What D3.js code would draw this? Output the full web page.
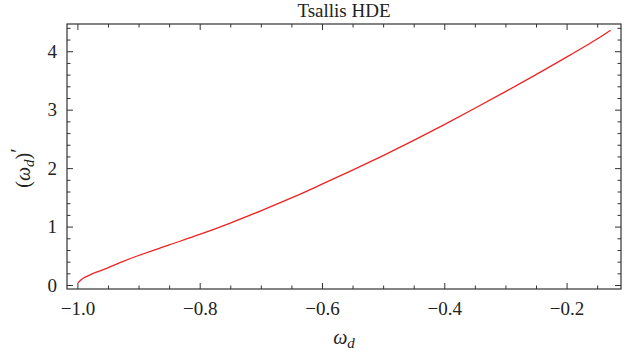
<!DOCTYPE html>
<html>
<head>
<meta charset="utf-8">
<script src="https://cdn.jsdelivr.net/npm/d3@7"></script>
<style>
  body { margin: 0; background: #fff; }
  svg text { font-family: "Liberation Serif", "Times New Roman", Times, serif; fill: #222; }
</style>
</head>
<body>
<svg id="drawing_region"></svg>
<script>
// values
const omega_d = [-0.999, -0.99, -0.98, -0.97, -0.95, -0.925, -0.9, -0.85, -0.8, -0.75, -0.7, -0.65,
                 -0.6, -0.55, -0.5, -0.45, -0.4, -0.35, -0.3, -0.25, -0.2, -0.15, -0.128];
const omega_prime = [0.04, 0.12, 0.17, 0.215, 0.295, 0.405, 0.505, 0.685, 0.865, 1.06, 1.27, 1.49,
                     1.725, 1.965, 2.215, 2.475, 2.745, 3.025, 3.31, 3.60, 3.90, 4.21, 4.36];
const x_ticks = [-1.0, -0.8, -0.6, -0.4, -0.2];
const y_ticks = [0, 1, 2, 3, 4];
const title = "Tsallis HDE";

const config = {
    width: 633, height: 358,
    margin: {top: 24, right: 12, bottom: 69, left: 67}
};
const w = config.width - config.margin.left - config.margin.right;
const h = config.height - config.margin.top - config.margin.bottom;
const serif = '"Liberation Serif", "Times New Roman", Times, serif';

const svg = d3.select('#drawing_region')
    .attr('width', config.width)
    .attr('height', config.height);

const g = svg.append('g')
    .attr('transform', `translate(${config.margin.left}, ${config.margin.top})`);

const x = d3.scaleLinear().domain([-1.017, -0.111]).range([0, w]);
const y = d3.scaleLinear().domain([-0.068, 4.466]).range([h, 0]);

const xMinor = d3.range(-1.0, -0.11, 0.05).filter(v => Math.abs(Math.round(v * 5) - v * 5) > 1e-6);
const yMinor = d3.range(0, 4.41, 0.2).filter(v => Math.abs(Math.round(v) - v) > 1e-6);

function styleAxis(sel) {
    sel.attr('font-family', serif);
    sel.select('.domain').remove();
    sel.selectAll('line').attr('stroke', '#333').attr('stroke-width', 1);
    sel.selectAll('text').style('font-size', '19px');
}

const fmt = d3.format('.1f');

// bottom
g.append('g').attr('transform', `translate(0, ${h})`)
    .call(d3.axisBottom(x).tickValues(x_ticks).tickFormat(fmt).tickSizeInner(-6).tickPadding(13))
    .call(styleAxis);
g.append('g').attr('transform', `translate(0, ${h})`)
    .call(d3.axisBottom(x).tickValues(xMinor).tickFormat('').tickSizeInner(-3.5))
    .call(styleAxis);
// top
g.append('g')
    .call(d3.axisTop(x).tickValues(x_ticks).tickFormat('').tickSizeInner(-6))
    .call(styleAxis);
g.append('g')
    .call(d3.axisTop(x).tickValues(xMinor).tickFormat('').tickSizeInner(-3.5))
    .call(styleAxis);
// left
g.append('g')
    .call(d3.axisLeft(y).tickValues(y_ticks).tickFormat(d3.format('d')).tickSizeInner(-6).tickPadding(10))
    .call(styleAxis);
g.append('g')
    .call(d3.axisLeft(y).tickValues(yMinor).tickFormat('').tickSizeInner(-3.5))
    .call(styleAxis);
// right
g.append('g').attr('transform', `translate(${w}, 0)`)
    .call(d3.axisRight(y).tickValues(y_ticks).tickFormat('').tickSizeInner(-6))
    .call(styleAxis);
g.append('g').attr('transform', `translate(${w}, 0)`)
    .call(d3.axisRight(y).tickValues(yMinor).tickFormat('').tickSizeInner(-3.5))
    .call(styleAxis);

// frame
g.append('rect')
    .attr('width', w).attr('height', h)
    .attr('fill', 'none').attr('stroke', '#333').attr('stroke-width', 1.2);

// curve
const line = d3.line()
    .x((d, i) => x(omega_d[i]))
    .y((d, i) => y(omega_prime[i]))
    .curve(d3.curveCatmullRom);

g.append('path')
    .datum(omega_prime)
    .attr('d', line)
    .attr('fill', 'none')
    .attr('stroke', '#ee2222')
    .attr('stroke-width', 1.3);

// title
svg.append('text')
    .attr('x', config.margin.left + w / 2)
    .attr('y', 17)
    .attr('text-anchor', 'middle')
    .style('font-size', '19px')
    .text(title);

// x label
const xl = svg.append('text')
    .attr('x', config.margin.left + w / 2)
    .attr('y', 344)
    .attr('text-anchor', 'middle')
    .style('font-size', '20px')
    .style('font-style', 'italic');
xl.append('tspan').text('ω');
xl.append('tspan').attr('dy', 4).style('font-size', '15px').text('d');

// y label
const yl = svg.append('text')
    .attr('transform', 'translate(30, 168) rotate(-90)')
    .attr('text-anchor', 'middle')
    .style('font-size', '20px');
yl.append('tspan').text('(');
yl.append('tspan').style('font-style', 'italic').text('ω');
yl.append('tspan').attr('dy', 4).style('font-size', '15px').style('font-style', 'italic').text('d');
yl.append('tspan').attr('dy', -4).text(')');
yl.append('tspan').attr('dy', -5).text('′');
</script>
</body>
</html>
